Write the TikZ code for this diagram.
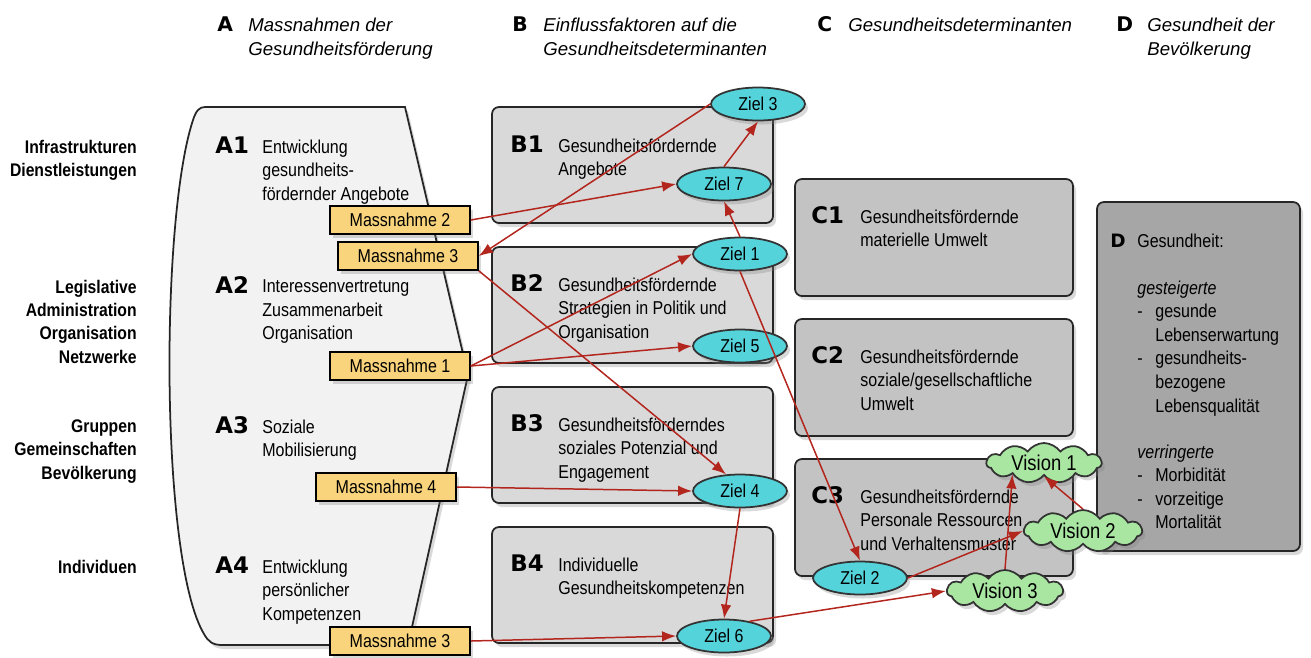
\documentclass[tikz,border=0pt]{standalone}
\usepackage{fontspec}
\setmainfont{Liberation Sans}
\newfontfamily\schmalfont{Liberation Sans}[FakeStretch=0.86]
\newfontfamily\schwerfont{DejaVu Sans}
\usepackage{tikz}
\usetikzlibrary{shapes.geometric, shapes.symbols, arrows.meta, positioning, shadows}
\newlength\pxu
\setlength\pxu{0.02cm}
\definecolor{afuell}{HTML}{F2F2F2}
\definecolor{bgrau}{HTML}{D9D9D9}
\definecolor{cgrau}{HTML}{C3C3C3}
\definecolor{dgrau}{HTML}{A6A6A6}
\definecolor{massgelb}{HTML}{F9D47C}
\definecolor{zielcyan}{HTML}{55D3DB}
\definecolor{visiongruen}{HTML}{A8E6A1}
\definecolor{pfeilrot}{HTML}{B3261E}
\newcommand\grundschrift{\schmalfont\fontsize{10.6}{13.4}\selectfont}
\newcommand\kopfschrift{\itshape\fontsize{10.6}{13.7}\selectfont}
\newcommand\seitenschrift{\schmalfont\bfseries\fontsize{10.4}{13.3}\selectfont}
\newcommand\kennschrift{\schwerfont\bfseries\fontsize{13}{15}\selectfont}
\newcommand\visionschrift{\schmalfont\fontsize{12.2}{14}\selectfont}
\begin{document}
\begin{tikzpicture}[x=0.02cm, y=-0.02cm,
    schatten/.style={drop shadow={opacity=0.3, shadow xshift=3\pxu, shadow yshift=-4\pxu}},
    detbox/.style={rectangle, draw=black!85, line width=1pt, fill=#1, rounded corners=7\pxu, schatten},
    mass/.style={rectangle, draw=black, line width=0.9pt, fill=massgelb, minimum width=140\pxu,
                 minimum height=28\pxu, inner sep=0pt, font=\grundschrift, schatten},
    ziel/.style={ellipse, draw=black!80, line width=1pt, fill=zielcyan, minimum width=94\pxu,
                 minimum height=33\pxu, inner sep=0pt, font=\grundschrift, schatten},
    vision/.style={cloud, cloud puffs=11, cloud puff arc=110, cloud ignores aspect, draw=black!80,
                   line width=1pt, fill=visiongruen, minimum width=116\pxu, minimum height=42\pxu,
                   inner sep=0pt, font=\visionschrift, schatten},
    kenn/.style={anchor=base west, inner sep=0pt, font=\kennschrift},
    txt/.style={anchor=north west, inner sep=0pt, align=left, font=\grundschrift},
    kopf/.style={anchor=north west, inner sep=0pt, align=left, font=\kopfschrift},
    seite/.style={anchor=north east, inner sep=0pt, align=right, font=\seitenschrift},
    pfeil/.style={draw=pfeilrot, line width=0.85pt, -{Latex[length=8pt, width=6pt]}}
]
    \useasboundingbox (0,0) rectangle (1311,657);

    % Kopfzeile
    \node[kenn, font=\schwerfont\bfseries\fontsize{11.5}{13}\selectfont] (ka) at (217,31) {A};
    \node[kopf] (kopfa) at (248,17.4) {Massnahmen der\\Gesundheitsförderung};
    \node[kenn, font=\schwerfont\bfseries\fontsize{11.5}{13}\selectfont] (kb) at (512,31) {B};
    \node[kopf] (kopfb) at (543,17.4) {Einflussfaktoren auf die\\Gesundheitsdeterminanten};
    \node[kenn, font=\schwerfont\bfseries\fontsize{11.5}{13}\selectfont] (kc) at (817,31) {C};
    \node[kopf] (kopfc) at (848,17.4) {Gesundheitsdeterminanten};
    \node[kenn, font=\schwerfont\bfseries\fontsize{11.5}{13}\selectfont] (kd) at (1116,31) {D};
    \node[kopf] (kopfd) at (1147,17.4) {Gesundheit der\\Bevölkerung};

    % Ebenen links
    \node[seite] (ebene1) at (137,139.4) {Infrastrukturen\\Dienstleistungen};
    \node[seite] (ebene2) at (137,279.4) {Legislative\\Administration\\Organisation\\Netzwerke};
    \node[seite] (ebene3) at (137,419.4) {Gruppen\\Gemeinschaften\\Bevölkerung};
    \node[seite] (ebene4) at (137,559.4) {Individuen};

    % Spalte A
    \filldraw[fill=afuell, draw=black!85, line width=1pt, schatten]
        (205,107) -- (405,107) -- (468,375) -- (408,645) -- (222,645)
        .. controls (212,645) and (208,641) .. (204,634)
        .. controls (160,560) and (160,220) .. (193,120)
        .. controls (196,111) and (199,107) .. (205,107) -- cycle;
    \node[kenn] (a1) at (215,153) {A1};
    \node[txt] (a1text) at (262,139.4) {Entwicklung\\gesundheits-\\fördernder Angebote};
    \node[kenn] (a2) at (215,293) {A2};
    \node[txt] (a2text) at (262,279.4) {Interessenvertretung\\Zusammenarbeit\\Organisation};
    \node[kenn] (a3) at (215,433) {A3};
    \node[txt] (a3text) at (262,419.4) {Soziale\\Mobilisierung};
    \node[kenn] (a4) at (215,573) {A4};
    \node[txt] (a4text) at (262,559.4) {Entwicklung\\persönlicher\\Kompetenzen};

    % Spalte B
    \node[detbox=bgrau, minimum width=281\pxu, minimum height=116\pxu] (b1) at (632.5,165) {};
    \node[detbox=bgrau, minimum width=281\pxu, minimum height=116\pxu] (b2) at (632.5,305) {};
    \node[detbox=bgrau, minimum width=281\pxu, minimum height=116\pxu] (b3) at (632.5,445) {};
    \node[detbox=bgrau, minimum width=281\pxu, minimum height=116\pxu] (b4) at (632.5,585) {};
    \node[kenn] (b1kenn) at (510,152) {B1};
    \node[txt] (b1text) at (558,138.4) {Gesundheitsfördernde\\Angebote};
    \node[kenn] (b2kenn) at (510,291) {B2};
    \node[txt] (b2text) at (558,277.4) {Gesundheitsfördernde\\Strategien in Politik und\\Organisation};
    \node[kenn] (b3kenn) at (510,431) {B3};
    \node[txt] (b3text) at (558,417.4) {Gesundheitsförderndes\\soziales Potenzial und\\Engagement};
    \node[kenn] (b4kenn) at (510,571) {B4};
    \node[txt] (b4text) at (558,557.4) {Individuelle\\Gesundheitskompetenzen};

    % Spalte C
    \node[detbox=cgrau, minimum width=278\pxu, minimum height=117\pxu] (c1) at (934,237.5) {};
    \node[detbox=cgrau, minimum width=278\pxu, minimum height=117\pxu] (c2) at (934,377.5) {};
    \node[detbox=cgrau, minimum width=278\pxu, minimum height=117\pxu] (c3) at (934,517.5) {};
    \node[kenn] (c1kenn) at (811,223) {C1};
    \node[txt] (c1text) at (860,209.4) {Gesundheitsfördernde\\materielle Umwelt};
    \node[kenn] (c2kenn) at (811,363) {C2};
    \node[txt] (c2text) at (860,349.4) {Gesundheitsfördernde\\soziale/gesellschaftliche\\Umwelt};
    \node[kenn] (c3kenn) at (811,503) {C3};
    \node[txt] (c3text) at (860,489.4) {Gesundheitsfördernde\\Personale Ressourcen\\und Verhaltensmuster};

    % Spalte D
    \node[detbox=dgrau, minimum width=203\pxu, minimum height=349\pxu] (dbox) at (1198.5,376.5) {};
    \node[kenn, font=\schwerfont\bfseries\fontsize{10.5}{13}\selectfont] (dkenn) at (1110,247) {D};
    \node[txt] (dtext) at (1137,233.4) {Gesundheit:\\[23.5\pxu]
        \textit{gesteigerte}\\
        \makebox[18\pxu][l]{-}gesunde\\
        \hspace*{18\pxu}Lebenserwartung\\
        \makebox[18\pxu][l]{-}gesundheits-\\
        \hspace*{18\pxu}bezogene\\
        \hspace*{18\pxu}Lebensqualität\\[22.5\pxu]
        \textit{verringerte}\\
        \makebox[18\pxu][l]{-}Morbidität\\
        \makebox[18\pxu][l]{-}vorzeitige\\
        \hspace*{18\pxu}Mortalität};

    % Massnahmen
    \node[mass] (m2) at (400,220) {Massnahme 2};
    \node[mass] (m3a) at (408,256) {Massnahme 3};
    \node[mass] (m1) at (400,366) {Massnahme 1};
    \node[mass] (m4) at (386,487) {Massnahme 4};
    \node[mass] (m3b) at (400,641) {Massnahme 3};

    % Ziele
    \node[ziel] (ziel3) at (758,104) {Ziel 3};
    \node[ziel] (ziel7) at (724,184) {Ziel 7};
    \node[ziel] (ziel1) at (740,254) {Ziel 1};
    \node[ziel] (ziel5) at (740,346) {Ziel 5};
    \node[ziel] (ziel4) at (740,491) {Ziel 4};
    \node[ziel] (ziel6) at (724,636) {Ziel 6};
    \node[ziel] (ziel2) at (860,578) {Ziel 2};

    % Visionen
    \node[vision, minimum width=115\pxu, minimum height=40\pxu] (vision1) at (1044,463) {Vision 1};
    \node[vision, minimum width=118\pxu] (vision2) at (1083,531) {Vision 2};
    \node[vision] (vision3) at (1005,591) {Vision 3};

    % Wirkungspfeile
    \draw[pfeil] (m2.east) -- (ziel7.west);
    \draw[pfeil] (ziel3.west) -- (m3a.east);
    \draw[pfeil] (ziel7.north) -- (ziel3.south);
    \draw[pfeil] (ziel1.north) -- (ziel7.south);
    \draw[pfeil] (m1.east) -- (ziel1.west);
    \draw[pfeil] (m1.east) -- (ziel5.west);
    \draw[pfeil] (m3a.south east) -- (ziel4.130);
    \draw[pfeil] (ziel1.south) -- (ziel2.north);
    \draw[pfeil] (m4.east) -- (ziel4.west);
    \draw[pfeil] (ziel4.south) -- (ziel6.north);
    \draw[pfeil] (m3b.east) -- (ziel6.west);
    \draw[pfeil] (ziel6.30) -- (vision3.west);
    \draw[pfeil] (ziel2.east) -- (vision2.west);
    \draw[pfeil] (vision3.north) -- (vision1.200);
    \draw[pfeil] (vision2.north) -- (vision1.south);
\end{tikzpicture}
\end{document}
